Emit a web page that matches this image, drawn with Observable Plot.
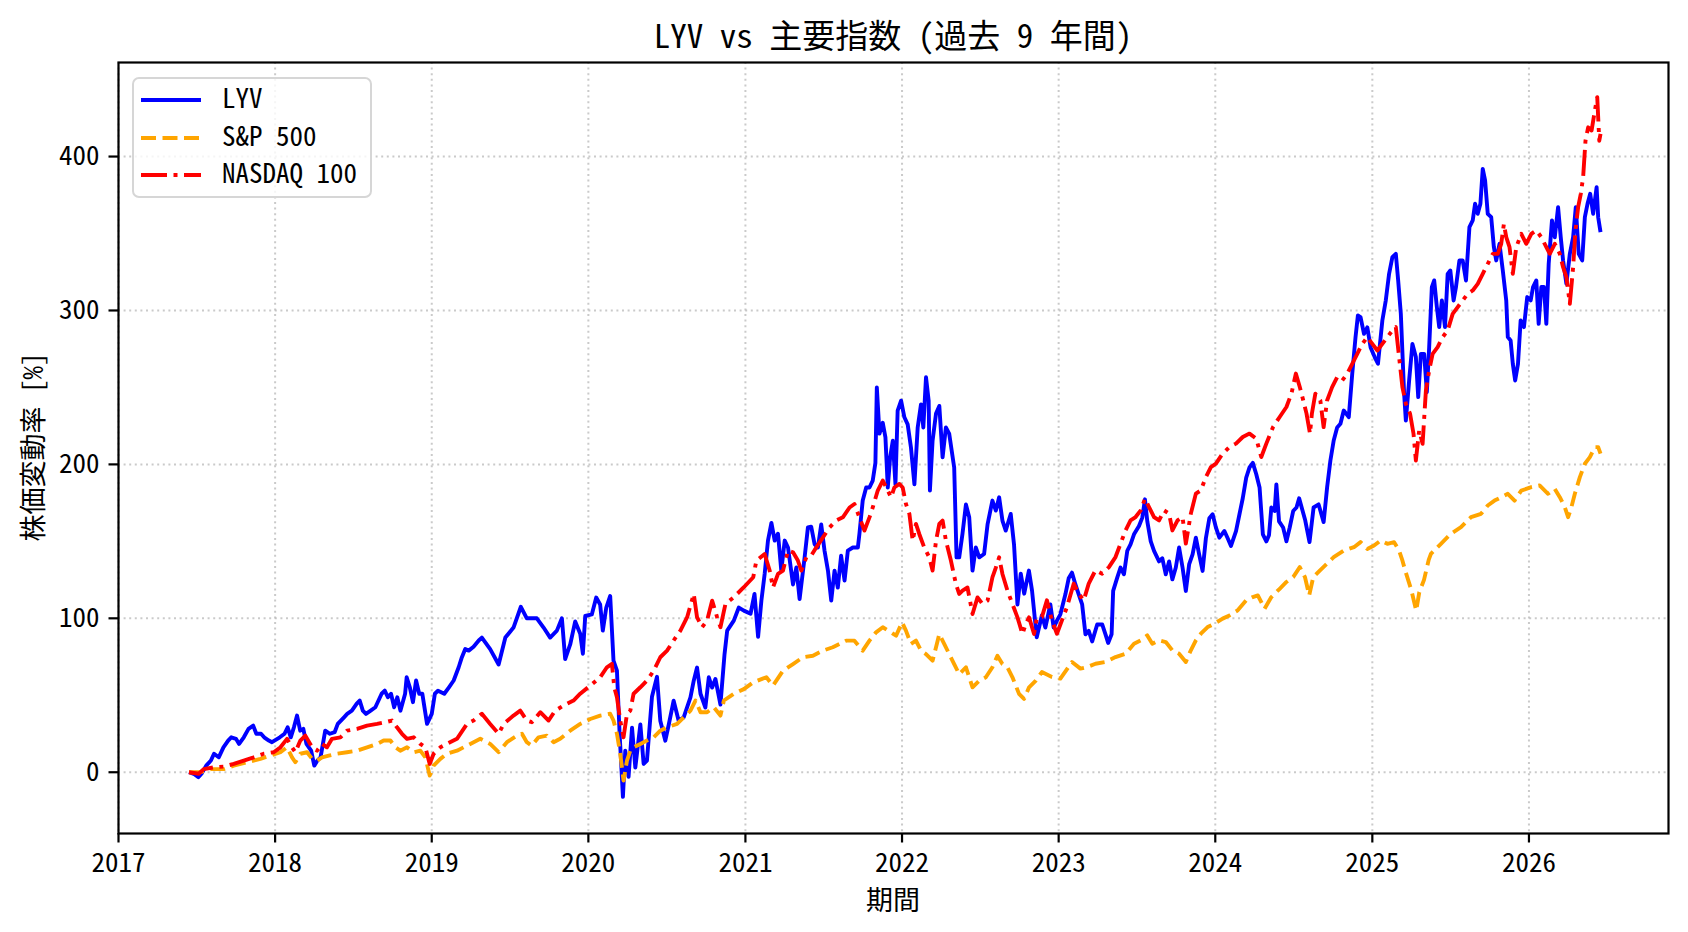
<!DOCTYPE html>
<html>
<head>
<meta charset="utf-8">
<script src="https://cdn.jsdelivr.net/npm/d3@7"></script>
<script src="https://cdn.jsdelivr.net/npm/@observablehq/plot@0.6"></script>
<style>
  html, body { margin: 0; padding: 0; background: white; }
  #wrap { position: relative; width: 1688px; height: 932px; overflow: hidden; background: white;
          font-family: "Noto Sans Mono CJK JP", "Noto Sans CJK JP", sans-serif; color: black; }
  #chart { position: absolute; left: 0; top: 0; }
  .lbl { position: absolute; text-align: center; white-space: nowrap; }
  #title { left: 118px; width: 1550px; top: 14px; height: 40px; line-height: 40px; font-size: 33px; }
  #xlabel { left: 118px; width: 1550px; top: 880px; height: 38px; line-height: 38px; font-size: 27px; }
  #ylabel { left: -168px; top: 428px; width: 400px; height: 38px; line-height: 38px; font-size: 27px; transform: rotate(-90deg); }
  #legend { position: absolute; left: 132px; top: 77px; width: 240px; height: 121px; box-sizing: border-box;
            border: 2px solid #d6d6d6; border-radius: 7px; background: rgba(255,255,255,0.8); }
  .row { position: absolute; left: 0; height: 36px; width: 236px; }
  .row svg { position: absolute; left: 7px; top: 0; }
  .row span { position: absolute; left: 88px; top: -3px; height: 36px; line-height: 36px; font-size: 27px; }
</style>
</head>
<body>
<div id="wrap">
  <div id="chart"></div>
  <div id="title" class="lbl"></div>
  <div id="xlabel" class="lbl"></div>
  <div id="ylabel" class="lbl"></div>
  <div id="legend"></div>
</div>
<script>
// ---- texts ----
const titleText = "LYV vs 主要指数 (過去 9 年間)";
const xLabel = "期間";
const yLabel = "株価変動率 [%]";
const seriesNames = ["LYV", "S&P 500", "NASDAQ 100"];
const yearTicks = [2017, 2018, 2019, 2020, 2021, 2022, 2023, 2024, 2025, 2026];
const yTicks = [0, 100, 200, 300, 400];

// ---- series: [decimal year, % change] ----
const lyv = [
[2017.45,0],[2017.48,-1],[2017.51,-3.2],[2017.53,-1],[2017.56,4.3],[2017.59,7.6],[2017.61,12],[2017.64,9.7],[2017.67,16.2],[2017.70,20.6],
[2017.72,22.7],[2017.75,21.7],[2017.77,18.4],[2017.80,22.7],[2017.83,28.2],[2017.86,30.3],[2017.88,25],[2017.91,25],[2017.93,22.7],[2017.96,20.6],
[2017.98,19.5],[2018.03,22.7],[2018.06,25],[2018.08,29.2],[2018.10,22.7],[2018.12,29.2],[2018.14,36.8],[2018.16,27],[2018.18,28.2],[2018.20,18.4],
[2018.23,14],[2018.25,4.3],[2018.27,7.6],[2018.29,9.7],[2018.32,27],[2018.35,25],[2018.38,26],[2018.40,31.4],[2018.44,35.7],[2018.46,37.9],
[2018.49,40],[2018.52,44.4],[2018.54,46.6],[2018.56,40],[2018.58,37.9],[2018.61,40],[2018.64,42.2],[2018.68,51],[2018.70,53],[2018.72,48.7],
[2018.74,51],[2018.76,42.2],[2018.78,48.7],[2018.80,40],[2018.83,51],[2018.84,61.7],[2018.86,55.2],[2018.88,45.5],[2018.90,59.6],[2018.92,51],
[2018.94,51],[2018.95,44.4],[2018.97,31.4],[2019.00,37.9],[2019.02,51],[2019.04,53],[2019.08,51],[2019.11,55.2],[2019.14,59.6],[2019.172,68.2],
[2019.19,74],[2019.214,80],[2019.236,79],[2019.267,81.5],[2019.30,85.6],[2019.32,87.5],[2019.373,80],[2019.427,70],[2019.47,87.5],[2019.522,94],
[2019.569,107.5],[2019.607,100],[2019.671,100],[2019.714,94],[2019.756,87.5],[2019.799,92],[2019.831,100],[2019.852,73.5],[2019.884,83],[2019.916,98],
[2019.948,90],[2019.965,77],[2019.98,101.5],[2020.022,102.5],[2020.05,113.5],[2020.075,109],[2020.092,92],[2020.114,107],[2020.139,114.5],[2020.16,72.5],
[2020.182,66],[2020.199,25],[2020.22,-16],[2020.235,14],[2020.256,-3],[2020.278,29],[2020.299,3],[2020.331,31],[2020.352,5.4],[2020.373,7.5],
[2020.405,49],[2020.437,62],[2020.458,33.5],[2020.49,20.5],[2020.512,31],[2020.543,46.5],[2020.575,33.5],[2020.607,35.7],[2020.65,48.7],[2020.671,59.5],
[2020.692,68],[2020.714,51],[2020.745,42],[2020.767,61.7],[2020.788,55],[2020.809,60.6],[2020.841,44],[2020.867,76.7],[2020.884,92],[2020.926,98.5],
[2020.958,107],[2020.99,105],[2021.033,103],[2021.058,115.8],[2021.081,88],[2021.102,111.5],[2021.123,129],[2021.144,150.5],[2021.166,162],[2021.187,150.5],
[2021.208,155],[2021.229,131],[2021.251,150.5],[2021.272,146],[2021.304,122],[2021.325,133],[2021.346,112.5],[2021.378,139.6],[2021.399,159],[2021.42,159.5],
[2021.442,148],[2021.463,146],[2021.484,161],[2021.505,144],[2021.527,131],[2021.548,111.5],[2021.569,131],[2021.59,120],[2021.611,140.7],[2021.633,124.5],
[2021.654,144],[2021.686,146],[2021.718,146],[2021.728,155],[2021.749,176.5],[2021.771,185],[2021.792,185],[2021.813,189.5],[2021.83,201],[2021.839,250],
[2021.856,220],[2021.877,227],[2021.894,217.6],[2021.909,185],[2021.924,204.6],[2021.941,215.4],[2021.958,187],[2021.972,235],[2021.994,241.4],[2022.015,230.6],
[2022.036,226],[2022.057,211],[2022.079,187],[2022.10,224],[2022.121,239],[2022.136,224],[2022.153,256.6],[2022.17,241.4],[2022.178,183],[2022.195,215.4],
[2022.217,233],[2022.238,238],[2022.259,204.6],[2022.28,224],[2022.301,220],[2022.333,198],[2022.348,139.6],[2022.365,139.6],[2022.386,155],[2022.408,174],
[2022.429,165.6],[2022.45,131],[2022.471,146],[2022.493,139.6],[2022.524,141.8],[2022.546,161],[2022.577,176.5],[2022.599,170],[2022.62,178.6],[2022.641,163.5],
[2022.662,157],[2022.694,167.8],[2022.715,148],[2022.737,109],[2022.758,129],[2022.78,116],[2022.81,131],[2022.83,118],[2022.86,87.7],[2022.893,102],
[2022.915,94],[2022.947,109],[2022.968,94],[2022.989,98.5],[2023.011,102.6],[2023.043,115.6],[2023.064,126],[2023.085,129.7],[2023.107,122],[2023.128,115.6],
[2023.15,109],[2023.171,89.6],[2023.192,91.8],[2023.214,85],[2023.246,96],[2023.278,96],[2023.299,89.6],[2023.316,84],[2023.338,89.6],[2023.348,117.8],
[2023.374,126.4],[2023.395,133],[2023.417,128.6],[2023.438,143.8],[2023.459,148],[2023.481,154.6],[2023.513,160],[2023.534,165.4],[2023.551,177.3],[2023.566,163],
[2023.588,150],[2023.609,143.8],[2023.641,137],[2023.662,139],[2023.684,128.6],[2023.705,137],[2023.726,125.3],[2023.748,133],[2023.769,146],[2023.791,133],
[2023.812,117.8],[2023.833,135],[2023.855,141.6],[2023.876,152.4],[2023.897,141.6],[2023.919,130.8],[2023.94,152],[2023.962,165],[2023.983,167.6],[2024.004,159],
[2024.026,152.4],[2024.058,156.7],[2024.079,152],[2024.10,147],[2024.132,156.7],[2024.154,167.6],[2024.175,178],[2024.197,191.4],[2024.218,198],[2024.239,201],
[2024.261,193.6],[2024.282,185],[2024.303,154.6],[2024.325,150],[2024.342,154],[2024.357,172],[2024.378,169.7],[2024.389,187],[2024.406,163],[2024.432,159],
[2024.453,150],[2024.474,159],[2024.496,169.7],[2024.517,172],[2024.534,178],[2024.573,163.5],[2024.60,149.5],[2024.626,172],[2024.658,174],[2024.69,162.5],
[2024.712,185],[2024.733,202.5],[2024.754,215.5],[2024.776,224],[2024.797,226.4],[2024.818,235],[2024.85,230.7],[2024.872,258.8],[2024.893,282.7],[2024.908,296.7],
[2024.925,295.7],[2024.947,284.8],[2024.968,289],[2024.989,276],[2025.015,269.7],[2025.036,265.4],[2025.064,293.5],[2025.086,306.6],[2025.107,323.8],[2025.128,334.6],
[2025.15,336.8],[2025.165,319.5],[2025.182,297.8],[2025.203,245.9],[2025.214,228.5],[2025.235,254.5],[2025.256,278.3],[2025.278,269.7],[2025.293,243.7],[2025.31,271.8],
[2025.331,271.8],[2025.348,246.9],[2025.363,276.2],[2025.38,315.2],[2025.395,319.5],[2025.412,302.2],[2025.427,289.2],[2025.444,306.5],[2025.464,289.2],[2025.481,323.8],
[2025.498,326],[2025.519,306.5],[2025.534,315.2],[2025.556,332.5],[2025.577,332.5],[2025.598,319.5],[2025.62,354.2],[2025.641,358.5],[2025.656,369.3],[2025.673,362.8],
[2025.69,369.3],[2025.705,392],[2025.72,384.5],[2025.737,362.8],[2025.759,360.6],[2025.776,341.1],[2025.791,332.5],[2025.812,343.3],[2025.833,326],[2025.855,306.5],
[2025.865,282.7],[2025.883,280.5],[2025.897,265.3],[2025.912,254.5],[2025.93,265.3],[2025.947,293.5],[2025.968,289.2],[2025.989,308.7],[2026.011,306.5],[2026.026,315.2],
[2026.047,319.5],[2026.062,291.3],[2026.079,315.2],[2026.096,315.2],[2026.111,291.3],[2026.126,330.3],[2026.147,358.5],[2026.165,347.6],[2026.186,367.1],[2026.203,347.6],
[2026.218,332.5],[2026.239,317.3],[2026.261,336.8],[2026.282,347.6],[2026.299,367.1],[2026.318,336.8],[2026.34,332.5],[2026.357,360.6],[2026.374,369.3],[2026.391,375.8],
[2026.41,362.8],[2026.432,380.1],[2026.442,360.6],[2026.457,350.9]
];

const spx = [
[2017.45,0],[2017.523,0],[2017.587,2],[2017.672,2],[2017.736,4.3],[2017.821,6.5],[2017.906,8.7],[2017.97,10.8],[2018.034,13],[2018.076,16.2],
[2018.108,9.7],[2018.129,6.5],[2018.161,12],[2018.204,13],[2018.236,8.7],[2018.268,7.6],[2018.30,9.7],[2018.342,10.8],[2018.395,12],[2018.459,13],
[2018.523,14],[2018.587,16.2],[2018.651,18.4],[2018.693,20.6],[2018.736,20.6],[2018.768,16.2],[2018.799,14],[2018.842,16.2],[2018.885,13],[2018.927,14],
[2018.959,9.7],[2018.987,-2.2],[2019.012,4.3],[2019.055,8.7],[2019.097,12],[2019.161,14],[2019.246,18.4],[2019.31,21.7],[2019.373,18.4],[2019.427,13],
[2019.48,19.5],[2019.544,23.8],[2019.576,25],[2019.607,19.5],[2019.639,17.3],[2019.682,22.7],[2019.735,23.8],[2019.778,19.5],[2019.82,21.7],[2019.884,27],
[2019.948,31.4],[2020.012,34.6],[2020.075,36.8],[2020.139,38],[2020.16,33.6],[2020.182,25],[2020.203,12],[2020.224,-5.4],[2020.246,7.6],[2020.267,14],
[2020.288,16.2],[2020.331,18.4],[2020.373,20.6],[2020.416,22.7],[2020.458,27],[2020.501,29.2],[2020.565,31.4],[2020.607,35.7],[2020.65,40],[2020.682,46.6],
[2020.714,39],[2020.756,39],[2020.799,42.2],[2020.841,36.8],[2020.863,46.6],[2020.926,51],[2020.99,54],[2021.049,58.4],[2021.134,61.7],[2021.176,56.3],
[2021.24,66],[2021.304,70.3],[2021.367,74.7],[2021.431,75.7],[2021.495,79],[2021.558,81.2],[2021.601,83.3],[2021.643,85.5],[2021.696,85.5],[2021.749,79],
[2021.792,85.5],[2021.834,90.9],[2021.877,94.2],[2021.93,90.9],[2021.962,88.7],[2022.0,97.4],[2022.025,92],[2022.057,83.3],[2022.089,85.5],[2022.121,79],
[2022.153,76.8],[2022.195,72.5],[2022.217,81.2],[2022.238,89.8],[2022.27,83.3],[2022.301,76.8],[2022.333,70.3],[2022.365,63.7],[2022.408,68.2],[2022.45,55.2],
[2022.493,59.5],[2022.535,61.7],[2022.577,68.2],[2022.609,75.7],[2022.641,70.3],[2022.673,68.2],[2022.705,61.7],[2022.747,50.9],[2022.779,47.6],[2022.811,55.2],
[2022.854,59.5],[2022.893,65.1],[2022.957,61.9],[2023.011,60.8],[2023.085,71.6],[2023.139,67.3],[2023.182,68.3],[2023.235,70.5],[2023.299,71.6],[2023.363,74.8],
[2023.427,77],[2023.481,83.5],[2023.524,85.7],[2023.566,88.9],[2023.598,83.5],[2023.641,85.7],[2023.684,84.6],[2023.726,79.2],[2023.769,77],[2023.812,71.6],
[2023.844,79.2],[2023.876,85.7],[2023.908,90],[2023.951,94.3],[2023.994,96.5],[2024.047,99.8],[2024.09,101.9],[2024.143,105.2],[2024.197,111.7],[2024.239,113.8],
[2024.271,114.9],[2024.314,106.2],[2024.357,113.8],[2024.41,119.2],[2024.453,123.6],[2024.496,126.8],[2024.538,133.3],[2024.571,126.8],[2024.598,114.9],[2024.624,126.8],
[2024.667,131.2],[2024.754,139.7],[2024.818,144],[2024.883,146.2],[2024.925,149.5],[2024.968,145.1],[2025.011,147.3],[2025.053,150.5],[2025.096,148.4],[2025.139,149.5],
[2025.171,144],[2025.192,137.6],[2025.21,131],[2025.25,118],[2025.28,105],[2025.30,117],[2025.33,125],[2025.36,138],[2025.374,141.9],[2025.438,148.4],
[2025.502,155],[2025.566,159.2],[2025.63,165.7],[2025.694,167.9],[2025.737,173.3],[2025.78,176.5],[2025.823,178.7],[2025.865,180.9],[2025.908,176.5],[2025.951,183],
[2026.015,185.2],[2026.068,186.3],[2026.122,180.9],[2026.165,184.1],[2026.197,178.7],[2026.229,172.2],[2026.25,165.7],[2026.271,172.2],[2026.293,180.9],[2026.325,191.7],
[2026.357,200.4],[2026.389,204.7],[2026.421,211.2],[2026.442,211.2],[2026.457,207]
];

const ndx = [
[2017.45,0],[2017.512,-1],[2017.544,2],[2017.608,3.2],[2017.672,3.7],[2017.736,5.4],[2017.80,7.6],[2017.863,9.7],[2017.927,12],[2017.991,13],
[2018.034,16.2],[2018.076,21.7],[2018.108,16.2],[2018.129,13],[2018.161,20.6],[2018.193,23.8],[2018.236,16.2],[2018.268,14],[2018.30,18.4],[2018.331,16.2],
[2018.363,21.7],[2018.417,22.7],[2018.459,27],[2018.523,28.2],[2018.587,30.3],[2018.651,31.4],[2018.704,32.5],[2018.746,33.6],[2018.778,29.2],[2018.81,25],
[2018.842,21.7],[2018.885,22.7],[2018.927,18.4],[2018.959,16.2],[2018.987,5.4],[2019.012,12],[2019.055,16.2],[2019.097,18.4],[2019.161,21.7],[2019.225,31.4],
[2019.267,33.6],[2019.32,38],[2019.373,31.4],[2019.427,25],[2019.459,31.4],[2019.522,36.8],[2019.565,40],[2019.607,33.6],[2019.639,32.5],[2019.693,39],
[2019.746,33.6],[2019.788,40],[2019.842,43.3],[2019.905,46.6],[2019.948,51],[2020.012,56.3],[2020.075,61.7],[2020.118,68.2],[2020.15,70.4],[2020.165,55.2],
[2020.182,48.7],[2020.203,33.6],[2020.224,22.7],[2020.246,38],[2020.267,40],[2020.288,51],[2020.331,55.2],[2020.373,59.6],[2020.416,66],[2020.458,74.7],
[2020.501,79],[2020.543,85.6],[2020.586,92],[2020.629,100.7],[2020.671,115.8],[2020.692,100.7],[2020.724,94.2],[2020.756,98.5],[2020.788,111.5],[2020.82,100.7],
[2020.841,94.2],[2020.873,109.4],[2020.926,113.7],[2020.99,120.2],[2021.05,126.7],[2021.07,137.5],[2021.123,141.8],[2021.155,131],[2021.176,120],[2021.208,128.8],
[2021.24,131],[2021.272,144],[2021.304,142.9],[2021.335,137.5],[2021.357,131],[2021.389,139.6],[2021.42,140.7],[2021.452,146],[2021.495,152.6],[2021.537,159],
[2021.58,163.5],[2021.622,165.6],[2021.665,172],[2021.696,174.3],[2021.728,165.6],[2021.76,157],[2021.792,165.6],[2021.813,172],[2021.845,183],[2021.877,189.5],
[2021.909,183],[2021.93,178.6],[2021.951,185],[2021.983,187.3],[2022.004,185],[2022.025,174.3],[2022.047,167.8],[2022.068,150.5],[2022.089,161.3],[2022.11,154.8],
[2022.142,146],[2022.174,139.6],[2022.195,131],[2022.217,150.5],[2022.238,161.3],[2022.259,163.5],[2022.28,150.5],[2022.312,137.5],[2022.344,122.3],[2022.365,115.8],
[2022.386,118],[2022.418,120],[2022.45,102.8],[2022.482,113.6],[2022.514,109.3],[2022.546,111.5],[2022.577,126.6],[2022.599,133],[2022.62,139.6],[2022.641,128.8],
[2022.673,118],[2022.705,109.3],[2022.737,100.6],[2022.769,89.8],[2022.79,96.3],[2022.811,100.6],[2022.843,89.8],[2022.86,100],[2022.893,100.8],[2022.925,111.7],
[2022.957,98.7],[2022.989,90],[2023.021,98.7],[2023.053,107.3],[2023.096,122.5],[2023.128,116],[2023.16,111.7],[2023.192,122.5],[2023.235,131.2],[2023.278,129],
[2023.321,133.3],[2023.363,139.8],[2023.395,148.5],[2023.427,157.1],[2023.459,163.6],[2023.491,165.8],[2023.524,170.1],[2023.551,177.7],[2023.577,172.3],[2023.609,165.8],
[2023.641,163.6],[2023.673,170.1],[2023.705,168],[2023.726,157.1],[2023.759,163.6],[2023.791,165.8],[2023.812,148.5],[2023.844,168],[2023.876,181],[2023.908,183.1],
[2023.94,191.8],[2023.972,198.3],[2024.004,200.5],[2024.047,207],[2024.09,211.3],[2024.132,213.5],[2024.175,217.8],[2024.218,220],[2024.261,216.7],[2024.293,204.8],
[2024.325,213.5],[2024.368,224.3],[2024.41,230.8],[2024.453,237.3],[2024.485,246],[2024.513,259],[2024.538,250.3],[2024.56,241.6],[2024.581,233],[2024.603,220],
[2024.615,232.9],[2024.637,245.9],[2024.669,241.5],[2024.69,224.2],[2024.712,241.5],[2024.744,250.2],[2024.776,256.7],[2024.808,254.5],[2024.84,258.8],[2024.872,265.3],
[2024.904,271.8],[2024.936,278.3],[2024.968,282.7],[2025.0,278.3],[2025.032,274],[2025.064,278.3],[2025.096,282.7],[2025.128,287],[2025.15,289.2],[2025.171,269.7],
[2025.192,250.2],[2025.214,239.4],[2025.241,232.9],[2025.263,219.9],[2025.278,202.5],[2025.299,222],[2025.321,213.4],[2025.342,248],[2025.363,261],[2025.385,271.8],
[2025.417,276.2],[2025.449,282.7],[2025.481,287],[2025.513,297.8],[2025.545,302.2],[2025.577,306.5],[2025.609,310.8],[2025.641,313],[2025.673,317.3],[2025.705,323.8],
[2025.737,330.3],[2025.769,336.8],[2025.801,336.8],[2025.823,343.3],[2025.84,356.3],[2025.855,347.6],[2025.876,341.1],[2025.897,323.8],[2025.919,341.1],[2025.951,349.8],
[2025.983,343.3],[2026.015,349.8],[2026.047,352],[2026.079,347.6],[2026.111,341.1],[2026.133,336.8],[2026.165,343.3],[2026.197,336.8],[2026.218,328.1],[2026.239,321.7],
[2026.261,304.3],[2026.282,328.1],[2026.297,352],[2026.314,367.1],[2026.331,375.8],[2026.346,386.6],[2026.361,410.3],[2026.378,419],[2026.40,416.9],[2026.421,430],
[2026.436,438.6],[2026.449,410.3],[2026.457,414.7]
];

const colors = ["#0000ff", "#ffa500", "#ff0000"];
const dashes = [null, "15,6.5", "26,6.5,4,6.5"];
const FONT = '"Noto Sans Mono CJK JP", "Noto Sans CJK JP", sans-serif';

// decimal year -> Date (UTC)
const toDate = t => {
  const y = Math.floor(t);
  const a = Date.UTC(y, 0, 1), b = Date.UTC(y + 1, 0, 1);
  return new Date(a + (t - y) * (b - a));
};
const rows = s => s.map(([t, v]) => ({date: toDate(t), value: v}));
const xTicks = yearTicks.map(y => new Date(Date.UTC(y, 0, 1)));

const lineOpts = i => ({
  x: "date", y: "value", stroke: colors[i], strokeWidth: 3.9,
  strokeLinejoin: "round", strokeLinecap: "butt",
  ...(dashes[i] ? {strokeDasharray: dashes[i]} : {})
});

const gridStyle = {stroke: "#b8b8b8", strokeOpacity: 0.75, strokeWidth: 2, strokeDasharray: "2,3.6"};

const chart = Plot.plot({
  width: 1688, height: 932,
  marginLeft: 118, marginRight: 20, marginTop: 62, marginBottom: 99,
  style: {fontFamily: FONT, fontSize: "27px", color: "black", background: "white", overflow: "visible"},
  x: {type: "utc", domain: [toDate(2017.0), toDate(2026.891)]},
  y: {domain: [-39.8, 461.1]},
  marks: [
    Plot.gridX(xTicks, gridStyle),
    Plot.gridY(yTicks, gridStyle),
    Plot.line(rows(lyv), lineOpts(0)),
    Plot.line(rows(spx), lineOpts(1)),
    Plot.line(rows(ndx), lineOpts(2)),
    Plot.frame({stroke: "black", strokeWidth: 2.2}),
    Plot.axisX(xTicks, {tickFormat: d => String(d.getUTCFullYear()), tickSize: 9.5, tickPadding: 10,
                        strokeWidth: 2.2, label: null, fontSize: 27, fontFamily: FONT}),
    Plot.axisY(yTicks, {tickFormat: d => String(d), tickSize: 9.5, tickPadding: 9.5,
                        strokeWidth: 2.2, label: null, fontSize: 27, fontFamily: FONT})
  ]
});
document.getElementById("chart").appendChild(chart);

document.getElementById("title").textContent = titleText;
document.getElementById("xlabel").textContent = xLabel;
document.getElementById("ylabel").textContent = yLabel;

// legend
const legend = document.getElementById("legend");
const rowTops = [3, 40.5, 78];
seriesNames.forEach((name, i) => {
  const r = document.createElement("div");
  r.className = "row";
  r.style.top = rowTops[i] + "px";
  const dash = dashes[i] ? `stroke-dasharray="${dashes[i]}"` : "";
  r.innerHTML = `<svg width="64" height="36"><line x1="0" y1="18" x2="60" y2="18" stroke="${colors[i]}" stroke-width="3.9" ${dash}/></svg><span></span>`;
  r.querySelector("span").textContent = name;
  legend.appendChild(r);
});
</script>
</body>
</html>
